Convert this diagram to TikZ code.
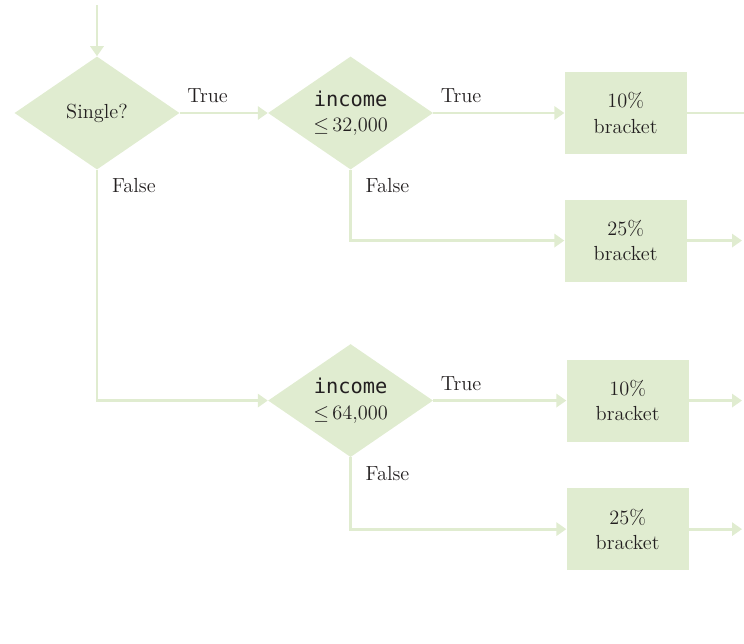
\documentclass[tikz,border=0pt]{standalone}
\usepackage{fontspec}
\newfontfamily\codefont{DejaVu Sans Mono}
\usepackage{tikz}
\usetikzlibrary{shapes.geometric, arrows.meta, positioning}
\definecolor{flow-green}{RGB}{224,236,208}
\definecolor{flow-text}{RGB}{35,31,32}

\begin{document}
\begin{tikzpicture}[
    node distance=1cm and 2cm,
    textfont/.style={font=\fontsize{14.5}{18}\selectfont, text=flow-text},
    decision/.style={diamond, fill=flow-green, minimum width=4.125cm, minimum height=2.825cm, aspect=1.46, inner sep=1pt, align=center, textfont},
    bracketbox/.style={rectangle, fill=flow-green, minimum width=3.05cm, minimum height=2.05cm, align=center, textfont},
    arrow/.style={-{Triangle[length=0.25cm, width=0.33cm]}, line width=2.1pt, draw=flow-green},
    line/.style={line width=2.1pt, draw=flow-green},
    truelabel/.style={textfont, inner sep=0pt, pos=0, anchor=south west, xshift=0.15cm, yshift=0.22cm},
    falselabel/.style={textfont, inner sep=0pt, pos=0, anchor=north west, xshift=0.34cm, yshift=-0.18cm}
]
\useasboundingbox (0,0) rectangle (18.6,-16.075);

\coordinate (start) at (2.425,-0.125);
\coordinate (rim) at (18.6,0);
\coordinate (edge) at (18.55,0);

\node[decision] (single) at (2.425,-2.825) {Single?};
\node[decision, right=2.2cm of single] (inc32) {{\codefont income}\\$\leq$\,32,000};
\node[bracketbox, right=3.275cm of inc32] (low32) {10\%\\bracket};
\node[bracketbox, below=1.125cm of low32] (high32) {25\%\\bracket};
\node[decision, below=4.35cm of inc32] (inc64) {{\codefont income}\\$\leq$\,64,000};
\node[bracketbox, right=3.325cm of inc64] (low64) {10\%\\bracket};
\node[bracketbox, below=1.15cm of low64] (high64) {25\%\\bracket};

\draw[arrow] (start) -- (single.north);
\draw[arrow] (single.east) -- node[truelabel] {True} (inc32.west);
\draw[arrow] (single.south) |- node[falselabel] {False} (inc64.west);
\draw[arrow] (inc32.east) -- node[truelabel] {True} (low32.west);
\draw[arrow] (inc32.south) |- node[falselabel] {False} (high32.west);
\draw[arrow] (inc64.east) -- node[truelabel] {True} (low64.west);
\draw[arrow] (inc64.south) |- node[falselabel] {False} (high64.west);
\draw[line] (low32.east) -- (low32.east -| rim);
\draw[arrow] (high32.east) -- (high32.east -| edge);
\draw[arrow] (low64.east) -- (low64.east -| edge);
\draw[arrow] (high64.east) -- (high64.east -| edge);

\end{tikzpicture}
\end{document}
